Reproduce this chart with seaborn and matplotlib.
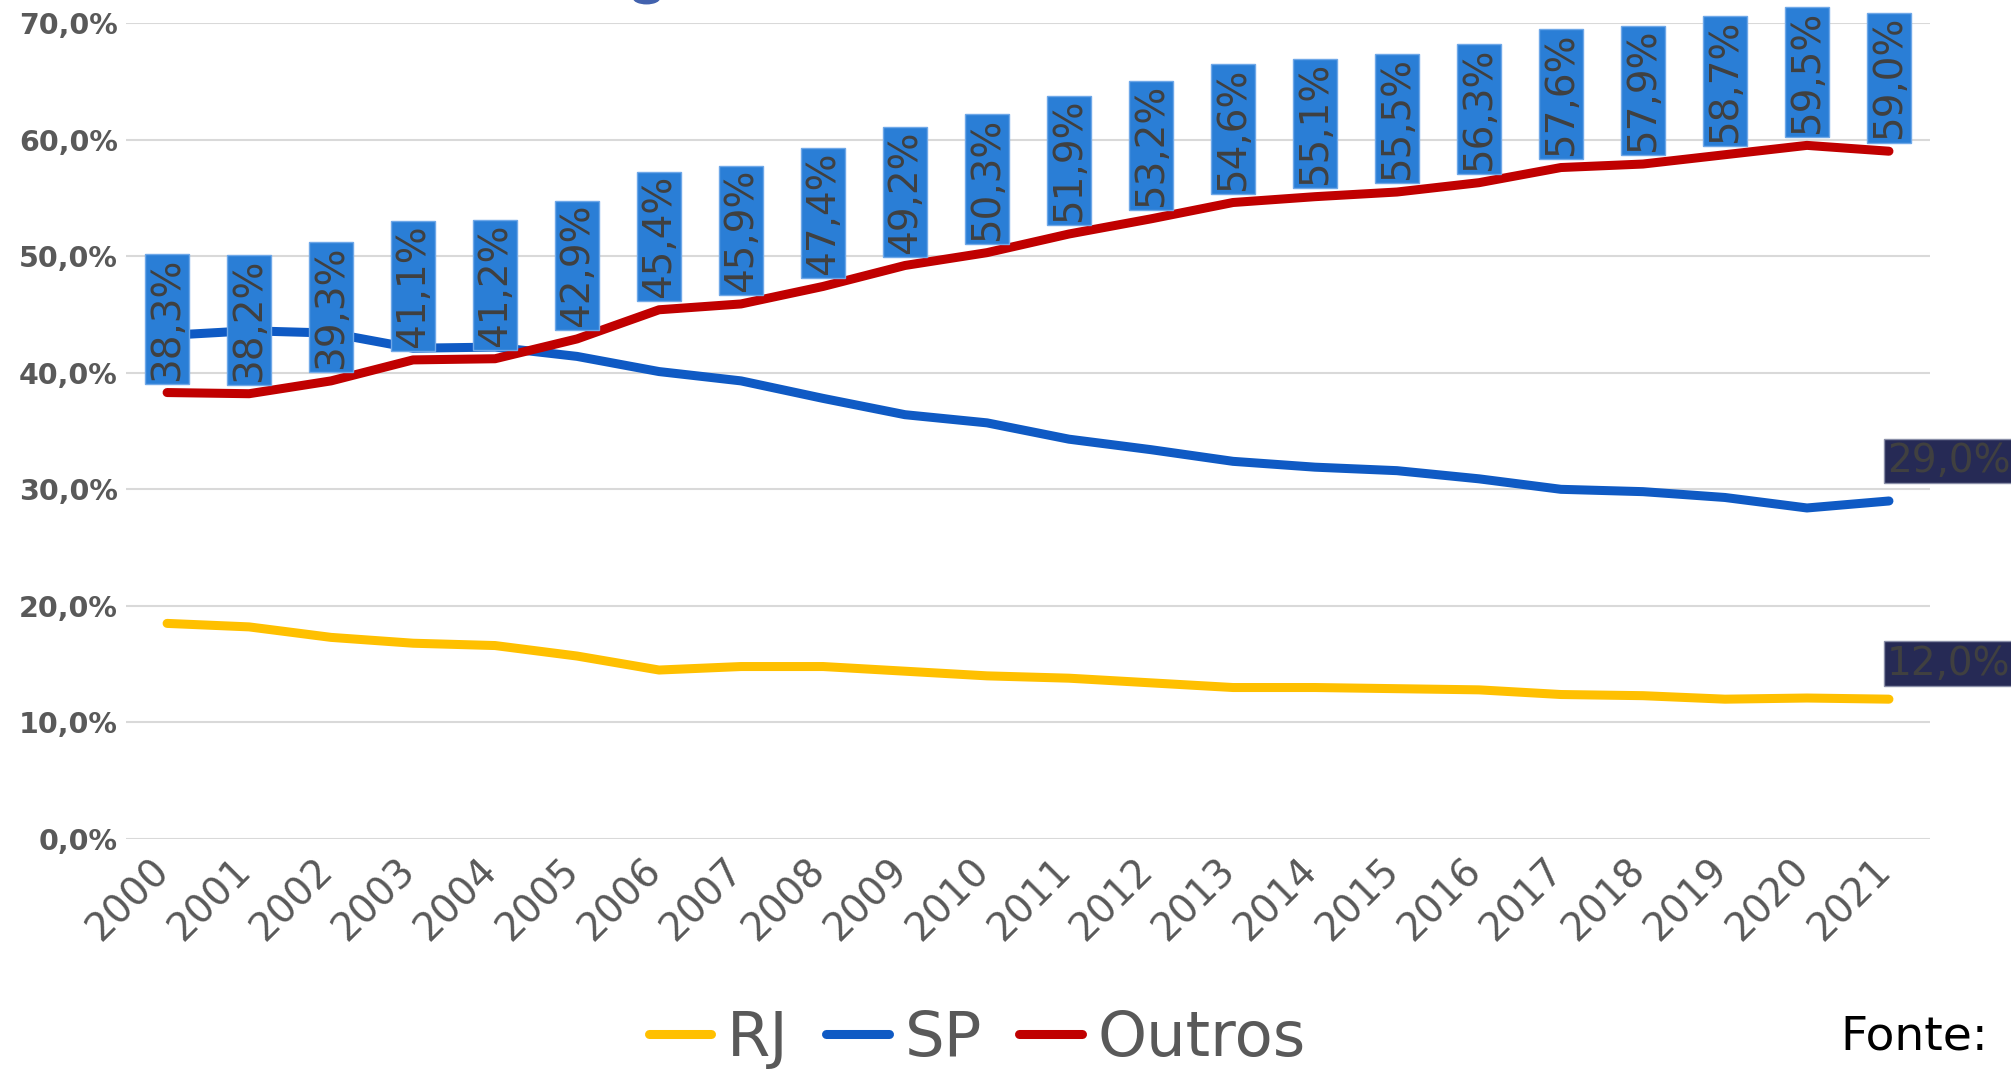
import matplotlib.pyplot as plt
import matplotlib.transforms as mtransforms
import pandas as pd
import seaborn as sns
from matplotlib.lines import Line2D
from matplotlib.patches import Ellipse
from matplotlib.ticker import FuncFormatter, MultipleLocator

# Participação por estado (%)
anos = ["2000", "2001", "2002", "2003", "2004", "2005", "2006", "2007",
        "2008", "2009", "2010", "2011", "2012", "2013", "2014", "2015",
        "2016", "2017", "2018", "2019", "2020", "2021"]
rj = [18.5, 18.2, 17.3, 16.8, 16.6, 15.7, 14.5, 14.8, 14.8, 14.4, 14.0,
      13.8, 13.4, 13.0, 13.0, 12.9, 12.8, 12.4, 12.3, 12.0, 12.1, 12.0]
sp = [43.2, 43.6, 43.4, 42.1, 42.2, 41.4, 40.1, 39.3, 37.8, 36.4, 35.7,
      34.3, 33.4, 32.4, 31.9, 31.6, 30.9, 30.0, 29.8, 29.3, 28.4, 29.0]
outros = [38.3, 38.2, 39.3, 41.1, 41.2, 42.9, 45.4, 45.9, 47.4, 49.2, 50.3,
          51.9, 53.2, 54.6, 55.1, 55.5, 56.3, 57.6, 57.9, 58.7, 59.5, 59.0]

series = ["RJ", "SP", "Outros"]
cores = {"RJ": "#FFC000", "SP": "#0F5AC4", "Outros": "#C00000"}


def pct(v):
    return f"{v:.1f}%".replace(".", ",")


def main() -> None:
    df = pd.DataFrame({
        "ano": anos * 3,
        "valor": rj + sp + outros,
        "serie": ["RJ"] * len(anos) + ["SP"] * len(anos) + ["Outros"] * len(anos),
    })

    sns.set_theme(style="white")
    plt.rcParams["font.family"] = ["DejaVu Sans"]

    fig = plt.figure(figsize=(20.11, 10.73), dpi=100)
    ax = fig.add_axes([0.0627, 0.218, 0.897, 0.7606])

    sns.lineplot(data=df, x="ano", y="valor", hue="serie", hue_order=series,
                 palette=cores, linewidth=6.5, sort=False, legend=False,
                 solid_capstyle="round", ax=ax, zorder=3)

    ax.set_xlim(-0.5, len(anos) - 0.5)
    ax.set_ylim(0, 70)
    ax.yaxis.set_major_locator(MultipleLocator(10))
    ax.yaxis.set_major_formatter(FuncFormatter(lambda v, _: pct(v)))
    ax.yaxis.grid(True, color="#D9D9D9", linewidth=1.5)
    ax.set_axisbelow(True)
    for s in ax.spines.values():
        s.set_visible(False)
    ax.set_xlabel("")
    ax.set_ylabel("")
    ax.tick_params(axis="y", length=0, pad=6, labelsize=20.5, labelcolor="#595959")
    ax.tick_params(axis="x", length=0, pad=9, labelsize=28, labelcolor="#595959")
    for lab in ax.get_yticklabels():
        lab.set_fontweight("bold")
    shift = mtransforms.ScaledTranslation(7 / 72, 0, fig.dpi_scale_trans)
    for lab in ax.get_xticklabels():
        lab.set_rotation(45)
        lab.set_ha("right")
        lab.set_transform(lab.get_transform() + shift)

    # rótulos de "Outros"
    for i, v in enumerate(outros):
        ax.annotate(pct(v), xy=(i, v), xytext=(0, 8.5), textcoords="offset points",
                    rotation=90, ha="center", va="bottom", fontsize=28,
                    color="#404040", zorder=5, annotation_clip=False,
                    bbox=dict(boxstyle="square,pad=0.08", fc="#2A7ED6",
                              ec="#6FA8E8", lw=1))

    # rótulos finais de SP e RJ
    last = len(anos) - 1
    for vals, dy in [(sp, 15), (rj, 12)]:
        ax.annotate(pct(vals[last]), xy=(last, vals[last]), xytext=(-1.5, dy),
                    textcoords="offset points", ha="left", va="bottom",
                    fontsize=28, color="#404040", zorder=5, annotation_clip=False,
                    bbox=dict(boxstyle="square,pad=0.08", fc="#262A55",
                              ec="#8A8FA8", lw=1))

    handles = [Line2D([0], [0], color=cores[s], lw=6.5, solid_capstyle="round")
               for s in series]
    leg = fig.legend(handles, series, loc="center", bbox_to_anchor=(0.486, 0.032),
                     ncol=3, frameon=False, fontsize=45, handlelength=1.0,
                     handletextpad=0.25, columnspacing=0.6)
    for t in leg.get_texts():
        t.set_color("#595959")

    fig.text(0.9886, 0.034, "Fonte:", ha="right", va="center", fontsize=34,
             color="black")

    # pedaço de forma cortada no topo
    fig.patches.append(Ellipse((0.3215, 1.002), 0.013, 0.011,
                               transform=fig.transFigure, color="#4262AE",
                               zorder=1))

    fig.savefig("out.png", dpi=100)
    plt.close(fig)


if __name__ == "__main__":
    main()
